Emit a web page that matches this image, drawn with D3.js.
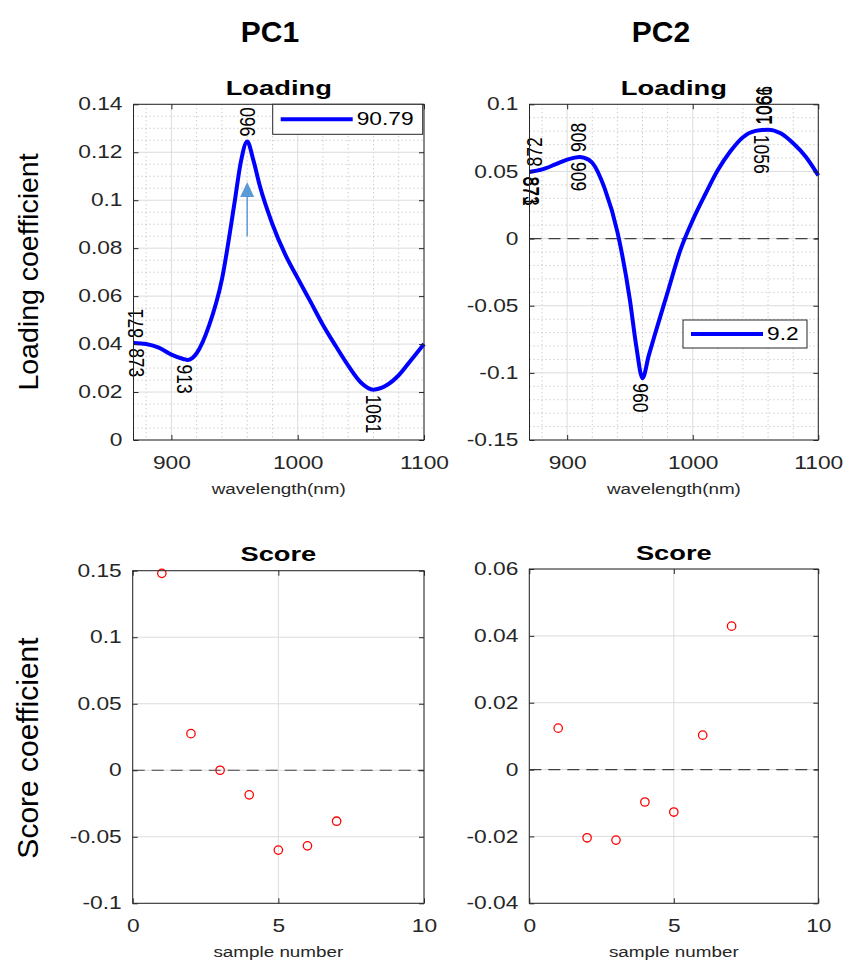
<!DOCTYPE html>
<html>
<head>
<meta charset="utf-8">
<script src="https://cdn.jsdelivr.net/npm/d3@7/dist/d3.min.js"></script>
<style>
  body { margin: 0; background: #fff; }
  svg { display: block; font-family: "Liberation Sans", Arial, sans-serif; }
</style>
</head>
<body>
<svg width="845" height="960"></svg>
<script>
// ---- data ----
const wavelength = [870, 880, 890, 900, 910, 913, 920, 930, 940, 950, 955, 960, 965, 970,
                    980, 990, 1000, 1010, 1020, 1030, 1040, 1050, 1060, 1070, 1080, 1090, 1100];
const loadingPC1 = [0.0405, 0.0400, 0.0385, 0.0356, 0.0337, 0.0334, 0.0362, 0.0480, 0.0670, 0.0990, 0.1160, 0.1245, 0.1165, 0.1060,
                    0.0900, 0.0775, 0.0675, 0.0578, 0.0480, 0.0393, 0.0310, 0.0240, 0.0210, 0.0227, 0.0270, 0.0335, 0.0400];
const loadingPC2 = [0.0496, 0.0515, 0.0550, 0.0588, 0.0608, 0.0603, 0.0565, 0.0370, 0.0050, -0.0460, -0.0800, -0.1040, -0.0870, -0.0710,
                    -0.0400, -0.0090, 0.0137, 0.0330, 0.0510, 0.0650, 0.0755, 0.0802, 0.0811, 0.0784, 0.0710, 0.0610, 0.0470];
const legendPC1 = "90.79";
const legendPC2 = "9.2";

const sampleNo = [1, 2, 3, 4, 5, 6, 7];
const scorePC1 = [0.148, 0.0275, 0.0, -0.0185, -0.0600, -0.0568, -0.0383];
const scorePC2 = [0.0124, -0.0204, -0.0211, -0.0097, -0.0127, 0.0103, 0.0429];

// peak / valley labels: [text, wavelength, value, side]
const marksPC1 = [["871", 871, 0.0405, "up"], ["873", 873, 0.0404, "down"], ["960", 960, 0.1245, "up"],
                  ["913", 911, 0.0336, "down"], ["1061", 1060, 0.0210, "down"]];
const marksPC2 = [["872", 874, 0.0500, "up"], ["873", 872, 0.0499, "down"], ["871", 871, 0.0498, "down"],
                  ["908", 909, 0.0608, "up"], ["909", 909, 0.0608, "down"], ["960", 959, -0.1040, "down"],
                  ["1056", 1055, 0.0810, "down"], ["1061", 1056, 0.0810, "up"], ["1066", 1057, 0.0810, "up"]];
const arrowPC1 = [960, 0.085, 0.1076];   // wavelength, tail, tip

const ticksWl = [900, 1000, 1100];
const ticksLoad1 = [0, 0.02, 0.04, 0.06, 0.08, 0.1, 0.12, 0.14];
const ticksLoad2 = [-0.15, -0.1, -0.05, 0, 0.05, 0.1];
const ticksSample = [0, 5, 10];
const ticksScore1 = [-0.1, -0.05, 0, 0.05, 0.1, 0.15];
const ticksScore2 = [-0.04, -0.02, 0, 0.02, 0.04, 0.06];

// ---- drawing ----
const SX = 1.3;            // the picture's text is stretched sideways
const svg = d3.select("svg");
const AX = "#262626";

function txt(g, x, y, s, o = {}) {
  return g.append("text")
    .attr("transform", `translate(${x},${y}) scale(${o.sx || SX},1)` + (o.rot ? ` rotate(${o.rot})` : ""))
    .attr("text-anchor", o.anchor || "middle")
    .attr("dominant-baseline", o.base || "auto")
    .attr("font-size", o.size || 17.5)
    .attr("font-weight", o.bold ? "bold" : "normal")
    .attr("fill", o.fill || AX)
    .text(s);
}

function stretch(sel) {
  sel.each(function () {
    const t = d3.select(this);
    const x = +t.attr("x") || 0, y = +t.attr("y") || 0;
    t.attr("x", 0).attr("y", 0).attr("transform", `translate(${x},${y}) scale(${SX},1)`);
  });
}

function panel(p) {
  const g = svg.append("g");
  const x = d3.scaleLinear().domain(p.xd).range([p.l, p.r]);
  const y = d3.scaleLinear().domain(p.yd).range([p.b, p.t]);

  if (p.minorX) {
    g.selectAll(null).data(p.minorX).enter().append("line")
      .attr("x1", d => x(d)).attr("x2", d => x(d)).attr("y1", p.t).attr("y2", p.b)
      .attr("stroke", "#b8b8b8").attr("stroke-dasharray", "1,3");
    g.selectAll(null).data(p.minorY).enter().append("line")
      .attr("y1", d => y(d)).attr("y2", d => y(d)).attr("x1", p.l).attr("x2", p.r)
      .attr("stroke", "#b8b8b8").attr("stroke-dasharray", "1,3");
  }
  g.selectAll(null).data(p.xt).enter().append("line")
    .attr("x1", d => x(d)).attr("x2", d => x(d)).attr("y1", p.t).attr("y2", p.b)
    .attr("stroke", "#dcdcdc");
  g.selectAll(null).data(p.yt).enter().append("line")
    .attr("y1", d => y(d)).attr("y2", d => y(d)).attr("x1", p.l).attr("x2", p.r)
    .attr("stroke", "#dcdcdc");
  if (p.zero) {
    g.append("line").attr("x1", p.l).attr("x2", p.r).attr("y1", y(0)).attr("y2", y(0))
      .attr("stroke", "#404040").attr("stroke-width", 1.2).attr("stroke-dasharray", "12,7");
  }

  const fmt = d => String(d);
  const ax = [
    [d3.axisBottom(x).tickValues(p.xt).tickFormat(fmt).tickPadding(16.5), `translate(0,${p.b})`],
    [d3.axisLeft(y).tickValues(p.yt).tickFormat(fmt).tickPadding(11), `translate(${p.l},0)`],
    [d3.axisTop(x).tickValues(p.xt).tickFormat(""), `translate(0,${p.t})`],
    [d3.axisRight(y).tickValues(p.yt).tickFormat(""), `translate(${p.r},0)`]
  ];
  const axG = svg.append("g");
  ax.forEach(([a, tr]) => {
    const ag = axG.append("g").attr("transform", tr)
      .call(a.tickSizeInner(-5).tickSizeOuter(0));
    ag.select(".domain").remove();
    ag.selectAll("line").attr("stroke", AX);
    ag.selectAll("text").attr("font-size", 17.5).attr("fill", AX)
      .attr("font-family", "Liberation Sans, Arial, sans-serif").call(stretch);
  });
  axG.append("rect").attr("x", p.l).attr("y", p.t).attr("width", p.r - p.l).attr("height", p.b - p.t)
    .attr("fill", "none").attr("stroke", AX).attr("stroke-width", 1);

  const cx = (p.l + p.r) / 2;
  txt(svg, cx, p.t - 9.5, p.title, { size: 21, bold: true, fill: "#000" });
  txt(svg, cx, p.b + 54, p.xlab, { size: 14.5 });
  return { g, x, y, axG };
}

function loadingCurve(P, vals, marks, legendText, lg) {
  const line = d3.line().x((d, i) => P.x(wavelength[i])).y(d => P.y(d)).curve(d3.curveMonotoneX);
  P.g.append("path").datum(vals).attr("d", line)
    .attr("fill", "none").attr("stroke", "#0000ff").attr("stroke-width", 4).attr("stroke-linejoin", "round");
  marks.forEach(([s, wl, v, side]) => {
    const up = side === "up";
    txt(P.g, P.x(wl), P.y(v) + (up ? -5 : 5), s,
      { rot: up ? -90 : 90, anchor: "start", base: "central", fill: "#000" });
  });
  // legend
  const lgG = P.axG.append("g");
  lgG.append("rect").attr("x", lg.x).attr("y", lg.y).attr("width", lg.w).attr("height", lg.h)
    .attr("fill", "#fff").attr("stroke", AX);
  lgG.append("line").attr("x1", lg.x + 8).attr("x2", lg.x + lg.line).attr("y1", lg.y + lg.h / 2).attr("y2", lg.y + lg.h / 2)
    .attr("stroke", "#0000ff").attr("stroke-width", 4);
  txt(lgG, lg.x + lg.line + 4, lg.y + lg.h / 2, legendText, { anchor: "start", base: "central", size: 17.5, fill: "#000" });
}

function scorePoints(P, vals) {
  P.g.selectAll(null).data(vals).enter().append("circle")
    .attr("cx", (d, i) => P.x(sampleNo[i])).attr("cy", d => P.y(d)).attr("r", 4.2)
    .attr("fill", "none").attr("stroke", "#ff0000").attr("stroke-width", 1.3);
}

// top titles
svg.append("text").attr("x", 270).attr("y", 42).attr("text-anchor", "middle")
  .attr("font-size", 30).attr("font-weight", "bold").text("PC1");
svg.append("text").attr("x", 661).attr("y", 42).attr("text-anchor", "middle")
  .attr("font-size", 30).attr("font-weight", "bold").text("PC2");

// y labels
txt(svg, 38, 272, "Loading coefficient", { rot: -90, size: 28.5, fill: "#000", sx: 1 });
txt(svg, 38, 748, "Score coefficient", { rot: -90, size: 30, fill: "#000", sx: 1 });

const minorWl = d3.range(880, 1100, 20).filter(d => d % 100 !== 0);

const P1 = panel({ l: 133.5, r: 424, t: 104.3, b: 440, xd: [870, 1100], yd: [0, 0.14],
  xt: ticksWl, yt: ticksLoad1, minorX: minorWl,
  minorY: d3.range(0.005, 0.14, 0.005).filter(d => Math.abs(d / 0.02 - Math.round(d / 0.02)) > 0.01),
  title: "Loading", xlab: "wavelength(nm)" });
loadingCurve(P1, loadingPC1, marksPC1, legendPC1, { x: 272.7, y: 104.3, w: 150, h: 30, line: 80 });
// arrow
const ax0 = P1.x(arrowPC1[0]), yTail = P1.y(arrowPC1[1]), yTip = P1.y(arrowPC1[2]);
P1.g.append("line").attr("x1", ax0).attr("x2", ax0).attr("y1", yTail).attr("y2", yTip + 12)
  .attr("stroke", "#5b9bd5").attr("stroke-width", 1.5);
P1.g.append("path").attr("d", `M${ax0},${yTip} L${ax0 - 7},${yTip + 15} L${ax0 + 7},${yTip + 15} Z`)
  .attr("fill", "#5b9bd5");

const P2 = panel({ l: 529.5, r: 818.3, t: 104.3, b: 440, xd: [870, 1100], yd: [-0.15, 0.1],
  xt: ticksWl, yt: ticksLoad2, minorX: minorWl,
  minorY: d3.range(-0.14, 0.1, 0.01).filter(d => Math.abs(d / 0.05 - Math.round(d / 0.05)) > 0.01),
  zero: true, title: "Loading", xlab: "wavelength(nm)" });
loadingCurve(P2, loadingPC2, marksPC2, legendPC2, { x: 683, y: 320, w: 124, h: 28, line: 80 });

const P3 = panel({ l: 132.7, r: 424, t: 570.7, b: 903.3, xd: [0, 10], yd: [-0.1, 0.15],
  xt: ticksSample, yt: ticksScore1, zero: true, title: "Score", xlab: "sample number" });
scorePoints(P3, scorePC1);

const P4 = panel({ l: 529.3, r: 818.3, t: 569, b: 903.3, xd: [0, 10], yd: [-0.04, 0.06],
  xt: ticksSample, yt: ticksScore2, zero: true, title: "Score", xlab: "sample number" });
scorePoints(P4, scorePC2);
</script>
</body>
</html>
